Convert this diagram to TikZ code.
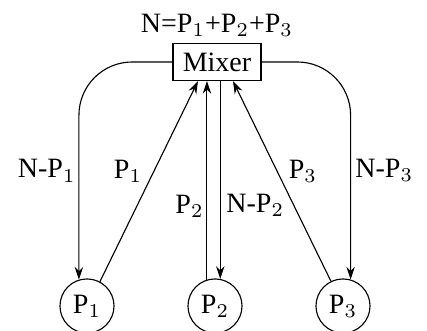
\documentclass[tikz,border=0pt]{standalone}
\usepackage{fontspec}
\setmainfont{Liberation Serif}
\usetikzlibrary{arrows.meta,calc}

\begin{document}
\begin{tikzpicture}[x=0.357pt,y=0.357pt,
    proc/.style={circle,draw,minimum size=19.3pt,inner sep=0pt},
    flow/.style={-{Stealth[length=4.5pt,width=3pt]}}]
                \useasboundingbox (0,0) rectangle (427,331);
                \node[draw,minimum width=31.4pt,minimum height=13.2pt,inner sep=0pt](mixer)at(217,269){\rmfamily Mixer};
                \node[above,inner sep=2pt](sum)at(mixer.north){N=P$_1$+P$_2$+P$_3$};
                \node[proc](p1)at(87,25){P$_1$};
                \node[proc](p2)at(215,25){P$_2$};
                \node[proc](p3)at(343,25){P$_3$};
                % side loops
                \draw[flow,rounded corners=19pt](mixer.west)-|(p1.107)
                    node[pos=0.75,left,inner sep=1pt]{N-P$_1$};
                \draw[flow,rounded corners=19pt](mixer.east)-|(p3.74)
                    node[pos=0.75,right,inner sep=1.5pt]{N-P$_3$};
                % middle pair
                \draw[flow](p2.107)--(p2.107|-mixer.south)
                    node[pos=0.37,left,inner sep=1pt]{P$_2$};
                \draw[flow](mixer.south-|p2.79)--(p2.79)
                    node[pos=0.63,right,inner sep=2pt]{N-P$_2$};
                % diagonals
                \draw[flow](p1.62)--($(mixer.south)+(-19,0)$)
                    node[pos=0.55,left,inner sep=4pt]{P$_1$};
                \draw[flow](p3.116)--($(mixer.south)+(16,0)$)
                    node[pos=0.55,right,inner sep=4pt]{P$_3$};
            \end{tikzpicture}
\end{document}
